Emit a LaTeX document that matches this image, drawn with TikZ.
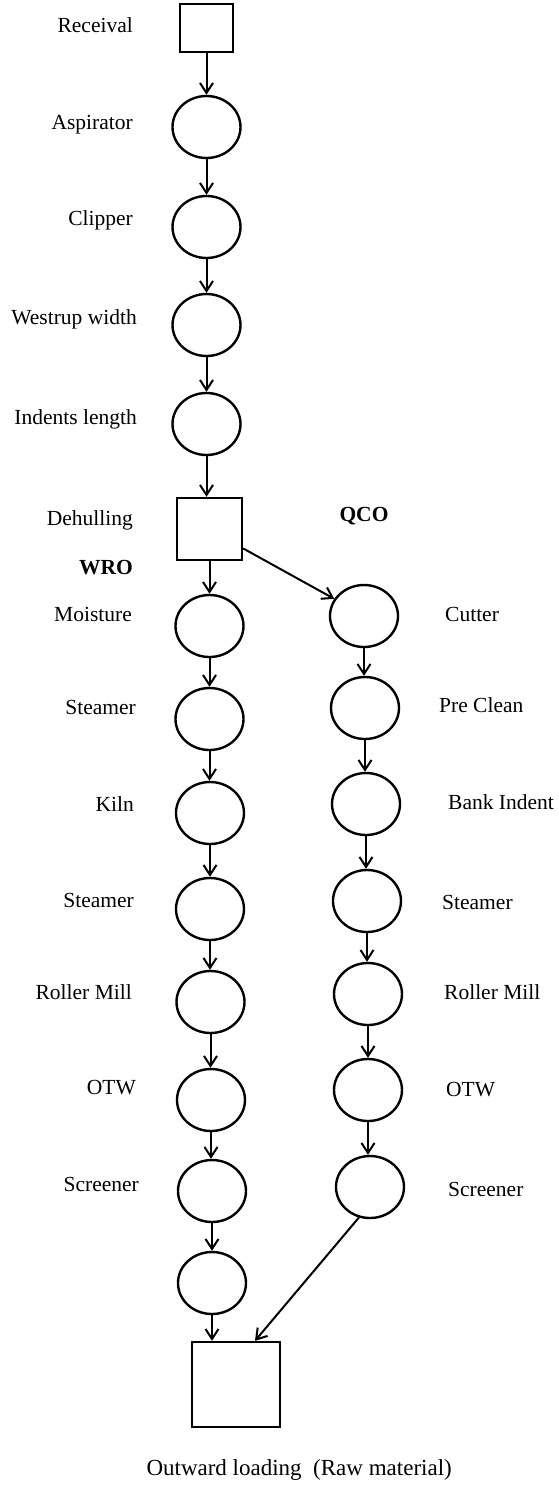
\documentclass[tikz,border=0pt]{standalone}
\usepackage{fontspec}
\setmainfont{Liberation Serif}
\usetikzlibrary{arrows.meta,shapes.geometric}
\begin{document}
\begin{tikzpicture}[x=1pt,y=-1pt,
  proc/.style={draw,ellipse,line width=2.4pt,minimum width=68pt,minimum height=62pt,inner sep=0pt},
  boxnode/.style={draw,rectangle,line width=2.4pt,inner sep=0pt},
  flow/.style={line width=2pt,-{Straight Barb[length=10pt,width=13pt]}},
  lab/.style={font=\fontsize{21.5}{25}\selectfont,inner sep=0pt},
  llab/.style={lab,anchor=base east},
  rlab/.style={lab,anchor=base west},
  blab/.style={font=\fontsize{21.5}{25}\selectfont\bfseries,inner sep=0pt,anchor=base}]
\useasboundingbox (0,0) rectangle (558,1489);
\fill[white] (0,0) rectangle (558,1489);

% boxes
\node[boxnode,minimum width=53pt,minimum height=48pt] (rec) at (206.5,28) {};
\node[boxnode,minimum width=65pt,minimum height=62pt] (dehull) at (209.5,529) {};
\node[boxnode,minimum width=88pt,minimum height=85pt] (outbox) at (236,1384.5) {};

% top column
\node[proc] (a1) at (206.5,127) {};
\node[proc] (a2) at (206.5,227) {};
\node[proc] (a3) at (206.5,325) {};
\node[proc] (a4) at (206.5,424) {};

% left column (WRO)
\node[proc] (l1) at (209.5,626) {};
\node[proc] (l2) at (209.5,719) {};
\node[proc] (l3) at (210,813) {};
\node[proc] (l4) at (210,909) {};
\node[proc] (l5) at (210.5,1002) {};
\node[proc] (l6) at (211,1100) {};
\node[proc] (l7) at (212,1191) {};
\node[proc] (l8) at (212,1283) {};

% right column (QCO)
\node[proc] (r1) at (364,616) {};
\node[proc] (r2) at (365,708) {};
\node[proc] (r3) at (366,804) {};
\node[proc] (r4) at (367,901) {};
\node[proc] (r5) at (368,994) {};
\node[proc] (r6) at (368,1090) {};
\node[proc] (r7) at (370,1187) {};

% labels left
\node[llab] (t1) at (133,32) {Receival};
\node[llab] (t2) at (133,129) {Aspirator};
\node[llab] (t3) at (133,225) {Clipper};
\node[llab] (t4) at (137,324) {Westrup width};
\node[llab] (t5) at (137,424) {Indents length};
\node[llab] (t6) at (133,525) {Dehulling};
\node[blab] (wro) at (106,574) {WRO};
\node[blab] (qco) at (364,521) {QCO};
\node[llab] (t7) at (132,621) {Moisture};
\node[llab] (t8) at (136,714) {Steamer};
\node[llab] (t9) at (134,811) {Kiln};
\node[llab] (t10) at (134,907) {Steamer};
\node[llab] (t11) at (132,999) {Roller Mill};
\node[llab] (t12) at (136,1094) {OTW};
\node[llab] (t13) at (139,1191) {Screener};

% labels right
\node[rlab] (s1) at (445,621) {Cutter};
\node[rlab] (s2) at (439,712) {Pre Clean};
\node[rlab] (s3) at (448,809) {Bank Indent};
\node[rlab] (s4) at (442,909) {Steamer};
\node[rlab] (s5) at (444,999) {Roller Mill};
\node[rlab] (s6) at (446,1096) {OTW};
\node[rlab] (s7) at (448,1196) {Screener};

\node[lab,anchor=base east,font=\fontsize{23}{27}\selectfont] (tout) at (452,1475) {Outward loading\ \ (Raw material)};

% connectors
\draw[flow] (rec.south) -- (rec.south |- a1.north);
\draw[flow] (a1.south) -- (a1.south |- a2.north);
\draw[flow] (a2.south) -- (a2.south |- a3.north);
\draw[flow] (a3.south) -- (a3.south |- a4.north);
\draw[flow] (a4.south) -- (a4.south |- dehull.north);
\draw[flow] (dehull.south) -- (dehull.south |- l1.north);
\draw[flow] (l1.south) -- (l1.south |- l2.north);
\draw[flow] (l2.south) -- (l2.south |- l3.north);
\draw[flow] (l3.south) -- (l3.south |- l4.north);
\draw[flow] (l4.south) -- (l4.south |- l5.north);
\draw[flow] (l5.south) -- (l5.south |- l6.north);
\draw[flow] (l6.south) -- (l6.south |- l7.north);
\draw[flow] (l7.south) -- (l7.south |- l8.north);
\draw[flow] (l8.south) -- (l8.south |- outbox.north);
\draw[flow] (dehull.-30) -- (r1.150);
\draw[flow] (r1.south) -- (r1.south |- r2.north);
\draw[flow] (r2.south) -- (r2.south |- r3.north);
\draw[flow] (r3.south) -- (r3.south |- r4.north);
\draw[flow] (r4.south) -- (r4.south |- r5.north);
\draw[flow] (r5.south) -- (r5.south |- r6.north);
\draw[flow] (r6.south) -- (r6.south |- r7.north);
\draw[flow] (r7.-110) -- ([xshift=19pt]outbox.north);
\end{tikzpicture}
\end{document}
